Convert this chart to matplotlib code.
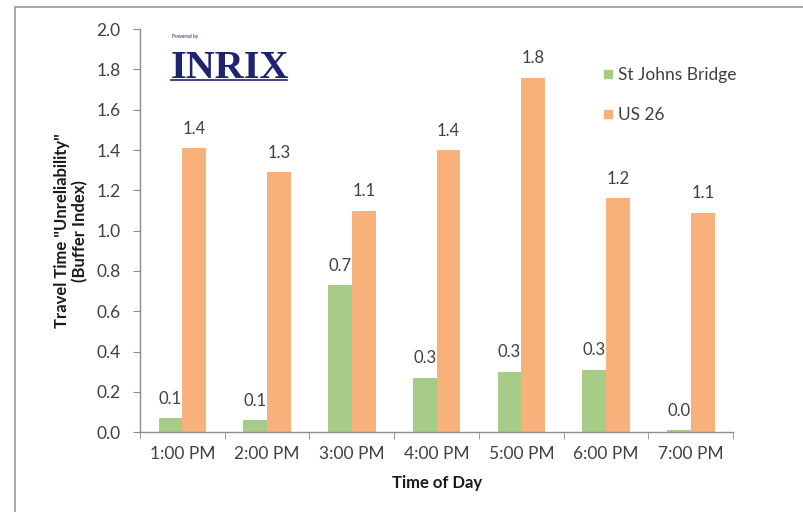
import matplotlib
matplotlib.use("Agg")
import matplotlib.pyplot as plt
import numpy as np
from matplotlib.patches import Rectangle
from matplotlib.lines import Line2D

plt.rcParams['font.family'] = ['Lato', 'DejaVu Sans']

hours = ['1:00 PM', '2:00 PM', '3:00 PM', '4:00 PM', '5:00 PM', '6:00 PM', '7:00 PM']
st_johns = [0.07, 0.06, 0.73, 0.27, 0.30, 0.31, 0.01]
us26 = [1.41, 1.29, 1.10, 1.40, 1.76, 1.16, 1.09]
yticks = [0.0, 0.2, 0.4, 0.6, 0.8, 1.0, 1.2, 1.4, 1.6, 1.8, 2.0]

green = '#a7cc88'
orange = '#f9b17b'
axis_gray = '#8c8c8c'
text_col = '#404040'

fig = plt.figure(figsize=(8.04, 5.12), dpi=100)
ax = fig.add_axes([0.174, 0.156, 0.738, 0.787])

x = np.arange(len(hours))
w = 0.28
b1 = ax.bar(x - w / 2, st_johns, w, color=green, label='St Johns Bridge')
b2 = ax.bar(x + w / 2, us26, w, color=orange, label='US 26')

for bars, vals in ((b1, st_johns), (b2, us26)):
    for r, v in zip(bars, vals):
        ax.annotate('%.1f' % v, (r.get_x() + r.get_width() / 2, v),
                    xytext=(0, 14), textcoords='offset points',
                    ha='center', va='center', fontsize=12, color=text_col)

ax.set_xlim(-0.5, len(hours) - 0.5)
ax.set_ylim(0, 2.0)
ax.set_yticks(yticks)
ax.set_yticklabels(['%.1f' % t for t in yticks])
ax.set_xticks(x)
ax.set_xticklabels(hours)
ax.set_xticks(np.arange(len(hours) + 1) - 0.5, minor=True)
ax.tick_params(axis='x', which='major', length=0, pad=10, labelsize=12.5, labelcolor=text_col)
ax.tick_params(axis='x', which='minor', length=5, color=axis_gray, direction='out')
ax.tick_params(axis='y', length=5, color=axis_gray, pad=9, labelsize=12.5, labelcolor=text_col)

for s in ('top', 'right'):
    ax.spines[s].set_visible(False)
for s in ('left', 'bottom'):
    ax.spines[s].set_color(axis_gray)
    ax.spines[s].set_linewidth(1)

ax.set_xlabel('Time of Day', fontsize=12, fontweight='bold', labelpad=9, color='#1a1a1a')
ax.set_ylabel('Travel Time "Unreliability"\n(Buffer Index)', fontsize=12,
              fontweight='bold', labelpad=6, color='#1a1a1a', linespacing=1.1)

handles = [Line2D([], [], marker='s', ls='none', color=green, markersize=6),
           Line2D([], [], marker='s', ls='none', color=orange, markersize=6)]
ax.legend(handles, ['St Johns Bridge', 'US 26'], loc='upper left',
          bbox_to_anchor=(0.748, 0.945), frameon=False, fontsize=12.5,
          handletextpad=0.1, labelspacing=1.4, handlelength=1.0,
          labelcolor=text_col)

# INRIX badge
fig.text(0.214, 0.925, 'Powered by', fontsize=3.5, color='#1a1f6e')
fig.text(0.212, 0.848, 'INRIX', fontsize=29, family='Liberation Serif',
         fontweight='bold', color='#1f2470')
fig.add_artist(Line2D([0.213, 0.357], [0.843, 0.843], color='#1f2470', lw=1.2))

# outer frame
fig.add_artist(Rectangle((0.0187, -0.01), 1.0, 0.996, fill=False,
                         edgecolor='#9a9a9a', lw=1.2, transform=fig.transFigure))

fig.savefig('out.png', dpi=100)
